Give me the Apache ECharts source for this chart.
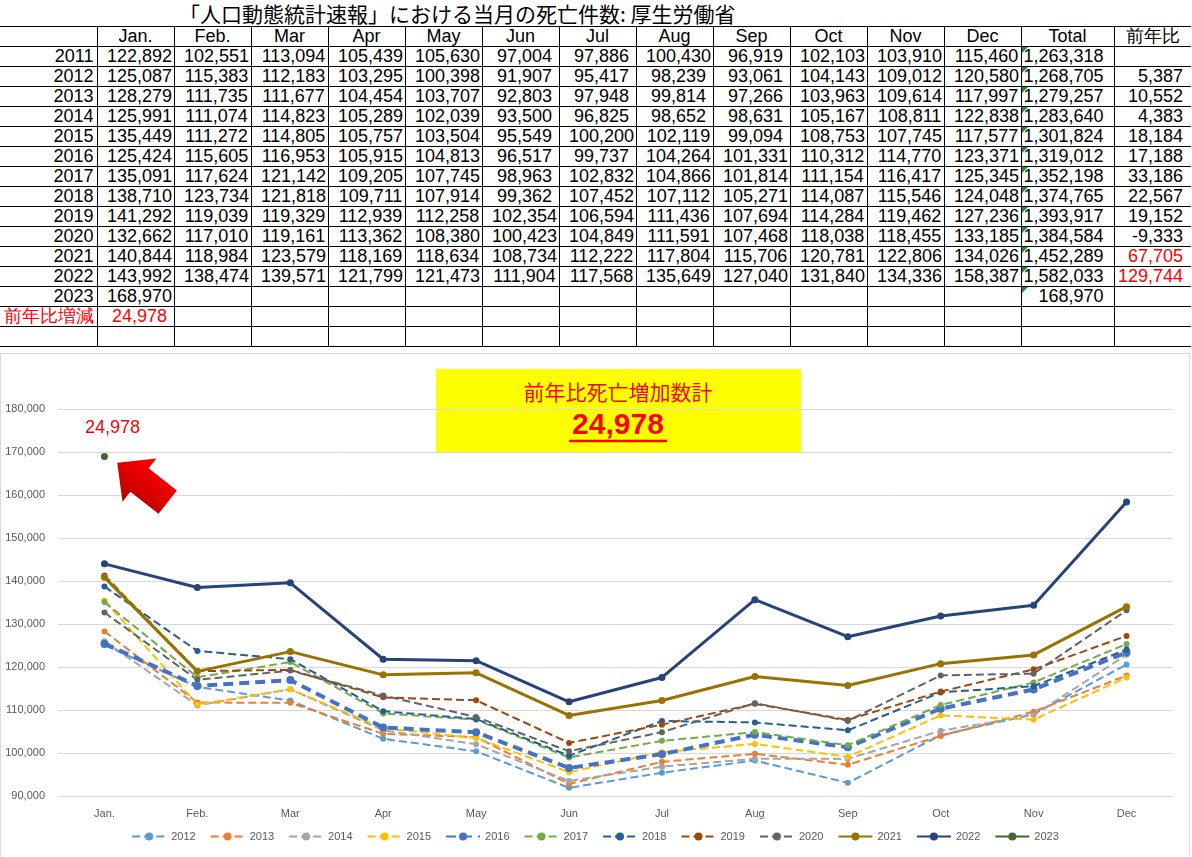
<!DOCTYPE html>
<html>
<head>
<meta charset="utf-8">
<title>当月の死亡件数</title>
<script src="https://cdn.jsdelivr.net/npm/echarts@6/dist/echarts.min.js"></script>
<style>
    body { margin: 0; background: #fff; width: 1192px; height: 857px; overflow: hidden; position: relative; }
    #title { position: absolute; left: 179px; top: 0; font-family: "Noto Sans CJK JP", sans-serif; font-size: 21px; line-height: 26px; color: #000; white-space: nowrap; }
    #tbl { position: absolute; left: 0; top: 26px; border-collapse: collapse; table-layout: fixed; font-family: "Liberation Sans Narrow", "Liberation Sans", Arial, sans-serif; font-size: 18px; color: #000; }
    #tbl td { border: 1px solid #000; height: 19px; line-height: 19px; padding: 0; white-space: nowrap; overflow: hidden; position: relative; }
    #tbl td.yr { text-align: right; padding-right: 3px; border-left: none; }
    #tbl td.m { text-align: center; padding-left: 8px; }
    #tbl td.h { text-align: center; }
    #tbl td.tot { text-align: right; padding-right: 10px; }
    #tbl td.yoy { text-align: right; padding-right: 8px; border-right: none; }
    #tbl td.red { color: #FF0000; }
    #tbl td.flag::before { content: ""; position: absolute; left: 0; top: 0; border-top: 6px solid #1E8C3A; border-right: 6px solid transparent; }
    #chart { position: absolute; left: 0; top: 353px; width: 1188px; height: 503px; border: 1px solid #D9D9D9; }
</style>
</head>
<body>
<div id="title">「人口動態統計速報」における当月の死亡件数: 厚生労働省</div>
<table id="tbl"></table>
<div id="chart"></div>

<script>
    var months = ['Jan.', 'Feb.', 'Mar', 'Apr', 'May', 'Jun', 'Jul', 'Aug', 'Sep', 'Oct', 'Nov', 'Dec'];
    var years = [2011, 2012, 2013, 2014, 2015, 2016, 2017, 2018, 2019, 2020, 2021, 2022, 2023];

    var d2011 = [122892, 102551, 113094, 105439, 105630, 97004, 97886, 100430, 96919, 102103, 103910, 115460];
    var d2012 = [125087, 115383, 112183, 103295, 100398, 91907, 95417, 98239, 93061, 104143, 109012, 120580];
    var d2013 = [128279, 111735, 111677, 104454, 103707, 92803, 97948, 99814, 97266, 103963, 109614, 117997];
    var d2014 = [125991, 111074, 114823, 105289, 102039, 93500, 96825, 98652, 98631, 105167, 108811, 122838];
    var d2015 = [135449, 111272, 114805, 105757, 103504, 95549, 100200, 102119, 99094, 108753, 107745, 117577];
    var d2016 = [125424, 115605, 116953, 105915, 104813, 96517, 99737, 104264, 101331, 110312, 114770, 123371];
    var d2017 = [135091, 117624, 121142, 109205, 107745, 98963, 102832, 104866, 101814, 111154, 116417, 125345];
    var d2018 = [138710, 123734, 121818, 109711, 107914, 99362, 107452, 107112, 105271, 114087, 115546, 124048];
    var d2019 = [141292, 119039, 119329, 112939, 112258, 102354, 106594, 111436, 107694, 114284, 119462, 127236];
    var d2020 = [132662, 117010, 119161, 113362, 108380, 100423, 104849, 111591, 107468, 118038, 118455, 133185];
    var d2021 = [140844, 118984, 123579, 118169, 118634, 108734, 112222, 117804, 115706, 120781, 122806, 134026];
    var d2022 = [143992, 138474, 139571, 121799, 121473, 111904, 117568, 135649, 127040, 131840, 134336, 158387];
    var d2023 = [168970];

    var totals = [1263318, 1268705, 1279257, 1283640, 1301824, 1319012, 1352198, 1374765, 1393917, 1384584, 1452289, 1582033, 168970];
    var yoy = [null, 5387, 10552, 4383, 18184, 17188, 33186, 22567, 19152, -9333, 67705, 129744, null];
    var redYoy = [2021, 2022];
    var diff2023 = [24978];

    var yearRows = [d2011, d2012, d2013, d2014, d2015, d2016, d2017, d2018, d2019, d2020, d2021, d2022, d2023];

    function fmt(v) {
        return v == null ? '' : v.toLocaleString('en-US');
    }

    // ---- table ----
    var tbl = document.getElementById('tbl');
    var widths = [97].concat(months.map(function () { return 77; })).concat([93, 77]);
    var html = '<colgroup>' + widths.map(function (w) { return '<col style="width:' + w + 'px">'; }).join('') + '</colgroup>';
    html += '<tr><td class="yr"></td>' + months.map(function (m) { return '<td class="h">' + m + '</td>'; }).join('') +
        '<td class="h">Total</td><td class="h yoy" style="text-align:center;padding-right:0">前年比</td></tr>';
    years.forEach(function (y, i) {
        var row = yearRows[i];
        html += '<tr><td class="yr">' + y + '</td>';
        for (var k = 0; k < 12; k++) {
            html += '<td class="m">' + fmt(row[k]) + '</td>';
        }
        html += '<td class="tot flag">' + fmt(totals[i]) + '</td>';
        html += '<td class="yoy' + (redYoy.indexOf(y) >= 0 ? ' red' : '') + '">' + fmt(yoy[i]) + '</td></tr>';
    });
    html += '<tr><td class="yr red">前年比増減</td><td class="m red">' + fmt(diff2023[0]) + '</td>';
    for (var k = 1; k < 12; k++) html += '<td class="m"></td>';
    html += '<td class="tot"></td><td class="yoy"></td></tr>';
    html += '<tr><td class="yr"></td>';
    for (var k = 0; k < 12; k++) html += '<td class="m"></td>';
    html += '<td class="tot"></td><td class="yoy"></td></tr>';
    tbl.innerHTML = html;

    // ---- chart ----
    var styles = {
        2012: {color: '#5B9BD5', width: 2, dash: 'dashed', size: 6},
        2013: {color: '#ED7D31', width: 2, dash: 'dashed', size: 6},
        2014: {color: '#A5A5A5', width: 2, dash: 'dashed', size: 6},
        2015: {color: '#FFC000', width: 2, dash: 'dashed', size: 6},
        2016: {color: '#4472C4', width: 4, dash: [10, 6], size: 8},
        2017: {color: '#70AD47', width: 2, dash: 'dashed', size: 6},
        2018: {color: '#255E91', width: 2, dash: 'dashed', size: 6},
        2019: {color: '#9E480E', width: 2, dash: 'dashed', size: 6},
        2020: {color: '#636363', width: 2, dash: 'dashed', size: 6},
        2021: {color: '#997300', width: 3, dash: 'solid', size: 7},
        2022: {color: '#264478', width: 3, dash: 'solid', size: 7},
        2023: {color: '#43682B', width: 3, dash: 'solid', size: 7}
    };

    var arrowPath = 'path://M50,0 L100,44 L77,44 L77,100 L23,100 L23,44 L0,44 Z';

    var series = [];
    for (var i = 1; i < years.length; i++) {
        var y = years[i];
        var s = styles[y];
        var item = {
            name: String(y),
            type: 'line',
            data: yearRows[i],
            symbol: 'circle',
            symbolSize: s.size,
            showAllSymbol: true,
            lineStyle: {color: s.color, width: s.width, type: s.dash},
            itemStyle: {color: s.color},
            emphasis: {disabled: true},
            z: y >= 2021 ? 3 : 2
        };
        if (y === 2023) {
            item.label = {
                show: true,
                position: 'top',
                distance: 16,
                offset: [8, 0],
                formatter: function () { return fmt(diff2023[0]); },
                color: '#FF0000',
                fontSize: 18,
                fontFamily: 'Liberation Sans, Arial, sans-serif'
            };
            item.markPoint = {
                symbol: arrowPath,
                symbolSize: [55, 64],
                symbolRotate: 52,
                symbolOffset: [38, 26],
                silent: true,
                label: {show: false},
                itemStyle: {
                    color: {
                        type: 'linear', x: 0, y: 0, x2: 1, y2: 0,
                        colorStops: [{offset: 0, color: '#B00000'}, {offset: 0.5, color: '#E00000'}, {offset: 1, color: '#FF0000'}]
                    }
                },
                data: [{coord: [months[0], d2023[0]]}]
            };
        }
        series.push(item);
    }

    var myChart = echarts.init(document.getElementById('chart'));
    var option = {
        backgroundColor: '#fff',
        animation: false,
        grid: {left: 57, right: 16, top: 55, bottom: 61},
        legend: {
            bottom: 10,
            left: 'center',
            itemWidth: 34,
            itemHeight: 10,
            itemGap: 14,
            textStyle: {color: '#595959', fontSize: 11, fontFamily: 'Liberation Sans, Arial, sans-serif'},
            data: series.map(function (s) { return s.name; })
        },
        xAxis: {
            type: 'category',
            data: months,
            axisLine: {show: true, lineStyle: {color: '#D9D9D9'}},
            axisTick: {show: false},
            axisLabel: {color: '#595959', fontSize: 11, margin: 12, fontFamily: 'Liberation Sans, Arial, sans-serif'}
        },
        yAxis: {
            type: 'value',
            min: 90000,
            max: 180000,
            interval: 10000,
            axisLine: {show: false},
            axisTick: {show: false},
            splitLine: {lineStyle: {color: '#D9D9D9'}},
            axisLabel: {
                color: '#595959', fontSize: 11, margin: 13,
                fontFamily: 'Liberation Sans, Arial, sans-serif',
                formatter: function (v) { return fmt(v); }
            }
        },
        graphic: [
            {
                type: 'group',
                left: 435,
                top: 15,
                children: [
                    {type: 'rect', shape: {x: 0, y: 0, width: 365, height: 84}, style: {fill: '#FFFF00'}},
                    {
                        type: 'text', x: 182, y: 23,
                        style: {text: '前年比死亡増加数計', fill: '#FF0000', fontSize: 21, fontFamily: 'Noto Sans CJK JP', align: 'center', verticalAlign: 'middle'}
                    },
                    {
                        type: 'text', x: 182, y: 57,
                        style: {text: fmt(diff2023[0]), fill: '#FF0000', fontSize: 30, fontWeight: 'bold', fontFamily: 'Liberation Sans, Arial', align: 'center', verticalAlign: 'middle'}
                    },
                    {type: 'line', shape: {x1: 133, y1: 72, x2: 231, y2: 72}, style: {stroke: '#FF0000', lineWidth: 2.5}}
                ]
            }
        ],
        series: series
    };
    myChart.setOption(option);
</script>
</body>
</html>
